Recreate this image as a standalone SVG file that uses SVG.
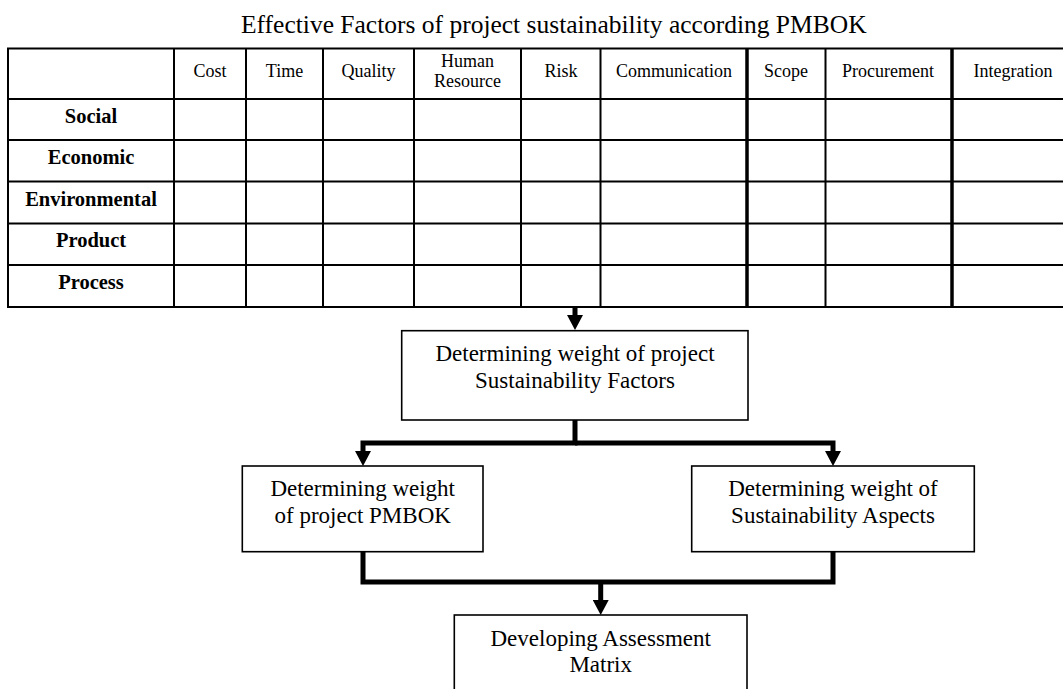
<svg xmlns="http://www.w3.org/2000/svg" width="1063" height="689" viewBox="0 0 1063 689">
<style>
  text { font-family: "Liberation Serif", "Times New Roman", serif; fill: #000; }
  .title { font-size: 25.5px; }
  .hdr { font-size: 18px; text-anchor: middle; }
  .row { font-size: 20.5px; font-weight: bold; text-anchor: middle; }
  .box { font-size: 23px; text-anchor: middle; }
  .grid { stroke: #000; stroke-width: 2; fill: none; }
  .gridb { stroke: #000; stroke-width: 3.5; fill: none; }
  .node { fill: #fff; stroke: #000; stroke-width: 1.6; }
  .conn { fill: none; stroke: #000; stroke-width: 5; stroke-linejoin: miter; }
</style>
<defs>
  <marker id="ah" markerUnits="userSpaceOnUse" markerWidth="15" markerHeight="16" refX="0" refY="8" orient="auto" viewBox="0 0 15 16">
    <path d="M0,0 L15,8 L0,16 z" fill="#000"/>
  </marker>
</defs>
<rect width="1063" height="689" fill="#fff"/>

<text class="title" x="241" y="33">Effective Factors of project sustainability according PMBOK</text>

<g id="table">
  <g class="grid">
    <line x1="7" y1="48.5" x2="1070" y2="48.5"/>
    <line x1="7" y1="99" x2="1070" y2="99"/>
    <line x1="7" y1="140" x2="1070" y2="140"/>
    <line x1="7" y1="181.5" x2="1070" y2="181.5"/>
    <line x1="7" y1="223.5" x2="1070" y2="223.5"/>
    <line x1="7" y1="265" x2="1070" y2="265"/>
    <line x1="7" y1="307" x2="1070" y2="307"/>
    <line x1="8" y1="48" x2="8" y2="308"/>
    <line x1="174" y1="48" x2="174" y2="308"/>
    <line x1="246" y1="48" x2="246" y2="308"/>
    <line x1="323" y1="48" x2="323" y2="308"/>
    <line x1="414" y1="48" x2="414" y2="308"/>
    <line x1="521" y1="48" x2="521" y2="308"/>
    <line x1="600.5" y1="48" x2="600.5" y2="308"/>
    <line x1="825.5" y1="48" x2="825.5" y2="308"/>
  </g>
  <g class="gridb">
    <line x1="747" y1="48" x2="747" y2="308"/>
    <line x1="952" y1="48" x2="952" y2="308"/>
  </g>
  <text class="hdr" x="210" y="76.5">Cost</text>
  <text class="hdr" x="284.5" y="76.5">Time</text>
  <text class="hdr" x="368.5" y="76.5">Quality</text>
  <text class="hdr" x="467.5" y="67">Human</text>
  <text class="hdr" x="467.5" y="87">Resource</text>
  <text class="hdr" x="561" y="76.5">Risk</text>
  <text class="hdr" x="674" y="76.5">Communication</text>
  <text class="hdr" x="786" y="76.5">Scope</text>
  <text class="hdr" x="888" y="76.5">Procurement</text>
  <text class="hdr" x="1013" y="76.5">Integration</text>
  <text class="row" x="91" y="123">Social</text>
  <text class="row" x="91" y="164">Economic</text>
  <text class="row" x="91" y="205.5">Environmental</text>
  <text class="row" x="91" y="247">Product</text>
  <text class="row" x="91" y="288.5">Process</text>
</g>

<g id="connectors">
  <path class="conn" d="M575,307 V315" marker-end="url(#ah)"/>
  <path class="conn" d="M575,420 V443 H363 V451" marker-end="url(#ah)"/>
  <path class="conn" d="M575,443 H833 V451" marker-end="url(#ah)"/>
  <path class="conn" d="M363,552 V582 H833 V552"/>
  <path class="conn" d="M600.7,582 V600" marker-end="url(#ah)"/>
</g>

<g id="node-factors">
  <rect class="node" x="401.7" y="330.7" width="346.3" height="89.3"/>
  <text class="box" x="575" y="361">Determining weight of project</text>
  <text class="box" x="575" y="388">Sustainability Factors</text>
</g>
<g id="node-pmbok">
  <rect class="node" x="242.3" y="466" width="240.7" height="85.7"/>
  <text class="box" x="362.7" y="496">Determining weight</text>
  <text class="box" x="362.7" y="523">of project PMBOK</text>
</g>
<g id="node-aspects">
  <rect class="node" x="691.7" y="466" width="282.6" height="85.7"/>
  <text class="box" x="833" y="496">Determining weight of</text>
  <text class="box" x="833" y="523">Sustainability Aspects</text>
</g>
<g id="node-matrix">
  <rect class="node" x="454.3" y="615" width="292.7" height="100"/>
  <text class="box" x="600.7" y="646">Developing Assessment</text>
  <text class="box" x="600.7" y="672">Matrix</text>
</g>
</svg>
